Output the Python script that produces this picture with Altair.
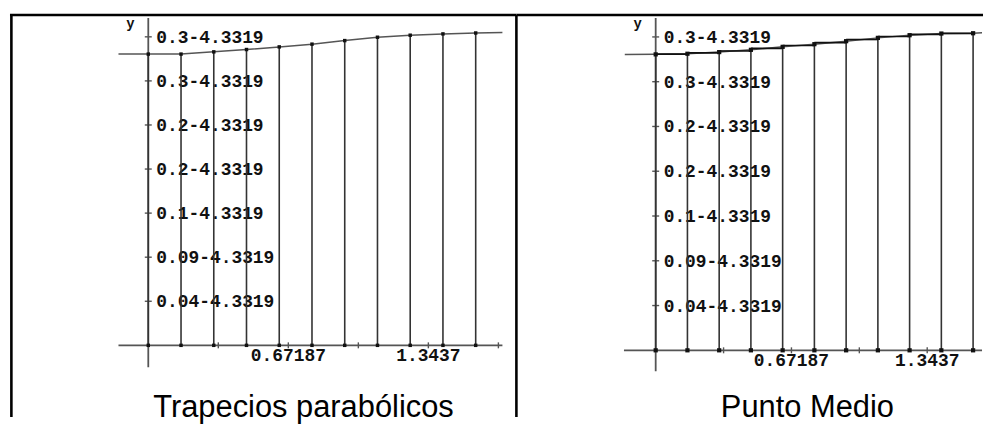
import altair as alt
import pandas as pd

# ---------------- data ----------------
# abscissae of the 11 partition nodes (10 strips on [0, pi/2])
node_x = [0.0, 0.1571, 0.3142, 0.4712, 0.6283, 0.7854, 0.9425, 1.0996, 1.2566, 1.4137, 1.5708]
# curve heights at the nodes, left panel (Trapecios parabólicos)
trap_y = [0.2870, 0.2870, 0.2892, 0.2915, 0.2941, 0.2968, 0.3003, 0.3036, 0.3056, 0.3069, 0.3078]
# curve heights at the nodes, right panel (Punto Medio)
mid_y = [0.2871, 0.2877, 0.2893, 0.2915, 0.2944, 0.2970, 0.2999, 0.3031, 0.3057, 0.3073, 0.3076]
# heights of the midpoint rectangles (one per strip), right panel
mid_rect_y = [0.2873, 0.2885, 0.2904, 0.2929, 0.2957, 0.2985, 0.3015, 0.3044, 0.3065, 0.3075]
# curve continues beyond the nodes up to the window edges
trap_end_x = [-0.143, 1.699]
trap_end_y = [0.2870, 0.3082]
mid_end_x = [-0.153, 1.615]
mid_end_y = [0.2870, 0.3080]

x_ticks = [0.33594, 0.67187, 1.0078, 1.3437, 1.6797]
x_tick_labels = ["", "0.67187", "", "1.3437", ""]
y_ticks = [0.04343, 0.08686, 0.13029, 0.17372, 0.21715, 0.26058, 0.30401]
y_tick_labels = ["0.04-4.3319", "0.09-4.3319", "0.1-4.3319", "0.2-4.3319",
                 "0.2-4.3319", "0.3-4.3319", "0.3-4.3319"]
titles = ["Trapecios parabólicos", "Punto Medio"]

MONO = "Liberation Mono"
SANS = "Liberation Sans"
H = 410
INK = "#111111"
LINE = "#333333"
AXIS = "#555555"


def panel(width, xdom, ydom, ys, end_x, end_y, rect_y, xaxis_ext, yaxis_ext,
          title, title_x, left_border):
    xs = alt.Scale(domain=xdom, nice=False, zero=False)
    ysc = alt.Scale(domain=ydom, nice=False, zero=False)

    def X(f):
        return alt.X(f, type="quantitative", scale=xs, axis=None)

    def Y(f):
        return alt.Y(f, type="quantitative", scale=ysc, axis=None)

    one = pd.DataFrame({"k": [0]})
    layers = []

    # table borders
    layers.append(alt.Chart(one).mark_rule(color="black", strokeWidth=2.6).encode(
        x=alt.value(0), x2=alt.value(width), y=alt.value(6)))
    if left_border:
        layers.append(alt.Chart(one).mark_rule(color="black", strokeWidth=2.6).encode(
            x=alt.value(1.4), y=alt.value(6), y2=alt.value(H)))
        layers.append(alt.Chart(one).mark_rule(color="black", strokeWidth=2.6).encode(
            x=alt.value(width), y=alt.value(6), y2=alt.value(H)))

    # only ticks that fall inside this panel
    xt = [(v, t) for v, t in zip(x_ticks, x_tick_labels) if v < xdom[1]]

    # y tick labels (drawn under the strip lines, as in the original)
    ydf = pd.DataFrame({"x": [0.0] * len(y_ticks), "y": y_ticks, "t": y_tick_labels})
    layers.append(alt.Chart(ydf).mark_text(
        font=MONO, fontSize=18, fontWeight="bold", align="left", baseline="middle",
        dx=8, dy=1, color=INK).encode(x=X("x"), y=Y("y"), text="t:N"))

    # axes
    xa = pd.DataFrame({"x": [xaxis_ext[0]], "x2": [xaxis_ext[1]], "y": [0.0]})
    layers.append(alt.Chart(xa).mark_rule(color=AXIS, strokeWidth=1.8).encode(
        x=X("x"), x2="x2", y=Y("y")))
    ya = pd.DataFrame({"x": [0.0], "y": [yaxis_ext[0]], "y2": [yaxis_ext[1]]})
    layers.append(alt.Chart(ya).mark_rule(color=AXIS, strokeWidth=1.8).encode(
        x=X("x"), y=Y("y"), y2="y2"))

    # axis ticks
    ytk = pd.DataFrame({"x": [0.0] * len(y_ticks), "y": y_ticks})
    layers.append(alt.Chart(ytk).mark_tick(orient="horizontal", size=7, thickness=1.4,
                                           color=AXIS, opacity=1).encode(x=X("x"), y=Y("y")))
    xtk = pd.DataFrame({"x": [v for v, _ in xt], "y": [0.0] * len(xt)})
    layers.append(alt.Chart(xtk).mark_tick(orient="vertical", size=6, thickness=1.4,
                                           color=AXIS, opacity=1).encode(x=X("x"), y=Y("y")))

    # strip lines
    vl = pd.DataFrame({"x": node_x, "y0": [0.0] * len(node_x), "y": ys})
    layers.append(alt.Chart(vl).mark_rule(color=LINE, strokeWidth=1.6).encode(
        x=X("x"), y=Y("y0"), y2="y"))

    # curve
    cdf = pd.DataFrame({"x": [end_x[0]] + node_x + [end_x[1]],
                        "y": [end_y[0]] + ys + [end_y[1]]})
    layers.append(alt.Chart(cdf).mark_line(color=AXIS, strokeWidth=1.5).encode(
        x=X("x"), y=Y("y")))

    # midpoint rectangle tops
    if rect_y is not None:
        rdf = pd.DataFrame({"x": node_x[:-1], "x2": node_x[1:], "y": rect_y})
        layers.append(alt.Chart(rdf).mark_rule(color=INK, strokeWidth=1.6).encode(
            x=X("x"), x2="x2", y=Y("y")))

    # dots at the nodes
    ddf = pd.DataFrame({"x": node_x + node_x, "y": ys + [0.0] * len(node_x)})
    layers.append(alt.Chart(ddf).mark_square(color=INK, size=12 if rect_y is None else 18,
                                             opacity=1).encode(x=X("x"), y=Y("y")))

    # x tick labels
    xl = pd.DataFrame({"x": [v for v, _ in xt], "y": [0.0] * len(xt),
                       "t": [t for _, t in xt]})
    xl = xl[xl["t"] != ""]
    layers.append(alt.Chart(xl).mark_text(
        font=MONO, fontSize=18, fontWeight="bold", align="center", baseline="alphabetic",
        dy=16, color=INK).encode(x=X("x"), y=Y("y"), text="t:N"))

    # "y" axis name
    yn = pd.DataFrame({"x": [0.0], "y": [yaxis_ext[1]], "t": ["y"]})
    layers.append(alt.Chart(yn).mark_text(
        font=MONO, fontSize=14, fontWeight="bold", align="center", baseline="middle",
        dx=-18, dy=6, color=INK).encode(x=X("x"), y=Y("y"), text="t:N"))

    # caption
    tdf = pd.DataFrame({"t": [title]})
    layers.append(alt.Chart(tdf).mark_text(
        font=SANS, fontSize=31, align="center", baseline="alphabetic", color="black").encode(
        x=alt.value(title_x), y=alt.value(410), text="t:N"))

    return alt.layer(*layers).properties(width=width, height=H)


W1, W2 = 509, 469
# plot geometry: y = 0 lies 338 px (left) / 343 px (right) below the chart top
left = panel(
    W1, [-139 / 209.5, (W1 - 139) / 209.5], [-(H - 338) / 1020.0, 338 / 1020.0],
    trap_y, trap_end_x, trap_end_y, None, [-0.143, 1.699], [-0.0216, 0.3225],
    titles[0], 295, True)
right = panel(
    W2, [-140 / 203.1, (W2 - 140) / 203.1], [-(H - 343) / 1036.1, 343 / 1036.1],
    mid_y, mid_end_x, mid_end_y, mid_rect_y, [-0.157, 1.615], [-0.0203, 0.3224],
    titles[1], 292.5, False)

chart = alt.hconcat(left, right, spacing=0, bounds="flush").properties(
    padding=0, background="white"
).configure_view(stroke=None)

chart.save("out.html", embed_options={"renderer": "svg", "actions": False})
